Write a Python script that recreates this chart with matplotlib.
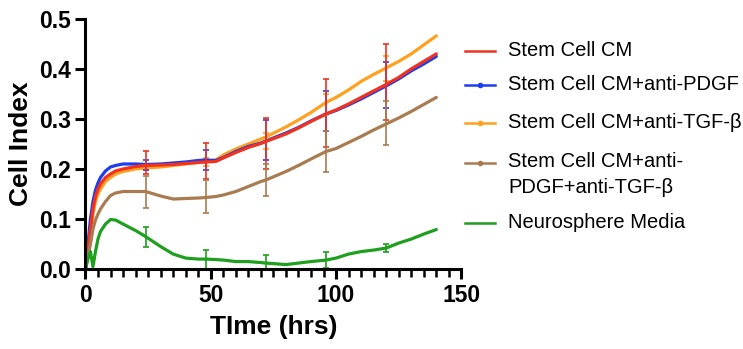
import numpy as np
import matplotlib
matplotlib.use("Agg")
import matplotlib.pyplot as plt
from matplotlib.lines import Line2D

plt.rcParams['font.family'] = ['Liberation Sans', 'DejaVu Sans']

# time points (hrs)
t_main = [0, 1, 2, 3, 4, 5, 6, 8, 10, 12, 15, 20, 24, 30, 35, 40, 45, 48, 52, 55, 60,
          65, 70, 72, 80, 85, 90, 96, 100, 105, 110, 115, 120, 125, 130, 135, 140]
red = [0, 0.04, 0.08, 0.12, 0.145, 0.16, 0.17, 0.183, 0.19, 0.196, 0.2, 0.205, 0.207, 0.208,
       0.209, 0.211, 0.213, 0.214, 0.215, 0.222, 0.233, 0.243, 0.251, 0.255, 0.27, 0.282,
       0.295, 0.31, 0.318, 0.33, 0.343, 0.356, 0.369, 0.383, 0.4, 0.415, 0.43]
blue = [0, 0.05, 0.1, 0.135, 0.158, 0.172, 0.183, 0.196, 0.204, 0.207, 0.21, 0.21, 0.209, 0.21,
        0.212, 0.214, 0.217, 0.218, 0.217, 0.223, 0.235, 0.245, 0.252, 0.256, 0.272, 0.283,
        0.296, 0.31, 0.317, 0.328, 0.34, 0.353, 0.366, 0.38, 0.396, 0.41, 0.425]
orange = [0, 0.035, 0.07, 0.11, 0.135, 0.15, 0.16, 0.175, 0.183, 0.19, 0.195, 0.2, 0.202,
          0.204, 0.207, 0.21, 0.213, 0.215, 0.218, 0.228, 0.24, 0.25, 0.26, 0.264, 0.284,
          0.298, 0.313, 0.333, 0.343, 0.358, 0.375, 0.389, 0.402, 0.415, 0.43, 0.448, 0.466]
brown = [0, 0.025, 0.05, 0.08, 0.098, 0.11, 0.12, 0.135, 0.147, 0.152, 0.155, 0.155, 0.155,
         0.146, 0.14, 0.141, 0.142, 0.143, 0.145, 0.148, 0.155, 0.165, 0.175, 0.178, 0.195,
         0.207, 0.22, 0.235, 0.241, 0.253, 0.265, 0.278, 0.29, 0.302, 0.315, 0.329, 0.343]
green = [0, 0.02, 0.035, 0.005, 0.035, 0.06, 0.075, 0.09, 0.099, 0.098, 0.09, 0.077, 0.065,
         0.045, 0.03, 0.022, 0.02, 0.02, 0.019, 0.018, 0.015, 0.015, 0.013, 0.012, 0.009,
         0.012, 0.015, 0.018, 0.022, 0.03, 0.035, 0.038, 0.042, 0.052, 0.06, 0.07, 0.079]

# error bars every 24 h: (low, high)
t_err = [24, 48, 72, 96, 120]
red_lo = [0.19, 0.18, 0.2, 0.244, 0.298]
red_hi = [0.236, 0.252, 0.302, 0.38, 0.449]
blue_lo = [0.197, 0.198, 0.218, 0.275, 0.322]
blue_hi = [0.218, 0.238, 0.298, 0.356, 0.413]
orange_lo = [0.198, 0.205, 0.24, 0.31, 0.375]
orange_hi = [0.21, 0.222, 0.272, 0.35, 0.425]
brown_lo = [0.123, 0.112, 0.147, 0.193, 0.247]
brown_hi = [0.185, 0.178, 0.21, 0.275, 0.335]
green_lo = [0.044, 0.0, 0.0, 0.002, 0.035]
green_hi = [0.084, 0.039, 0.028, 0.034, 0.05]

labels = ["Stem Cell CM", "Stem Cell CM+anti-PDGF", "Stem Cell CM+anti-TGF-β",
          "Stem Cell CM+anti-\nPDGF+anti-TGF-β", "Neurosphere Media"]
colors = ["#f0321e", "#1e3cf0", "#ffa01e", "#a87c50", "#1ea01e"]

fig = plt.figure(figsize=(7.43, 3.49), dpi=100)
ax = fig.add_axes([0.115, 0.229, 0.506, 0.717])

series = [(orange, orange_lo, orange_hi), (blue, blue_lo, blue_hi), (red, red_lo, red_hi),
          (brown, brown_lo, brown_hi), (green, green_lo, green_hi)]
order = [2, 1, 0, 3, 4]
for idx, (vals, lo, hi) in zip(order, series):
    c = colors[idx]
    ax.plot(t_main, vals, color=c, lw=2.3, solid_capstyle='round')
    mid = np.array([v for t, v in zip(t_main, vals) if t in t_err])
    yerr = np.abs([mid - np.array(lo), np.array(hi) - mid])
    ax.errorbar(t_err, mid, yerr=yerr, fmt='none', ecolor=c,
                elinewidth=1.2, capsize=2.5, capthick=1.2)

ax.set_xlim(0, 150)
ax.set_ylim(0, 0.5)
ax.set_xticks([0, 50, 100, 150])
ax.set_xticks(np.arange(0, 151, 5), minor=True)
ax.set_yticks([0, 0.1, 0.2, 0.3, 0.4, 0.5])
ax.set_yticklabels(["0.0", "0.1", "0.2", "0.3", "0.4", "0.5"])
for s in ("top", "right"):
    ax.spines[s].set_visible(False)
for s in ("left", "bottom"):
    ax.spines[s].set_linewidth(2.2)
ax.tick_params(which='major', length=7, width=2.2, labelsize=16.5)
ax.tick_params(which='minor', length=5.5, width=1.8)
for lab in ax.get_xticklabels() + ax.get_yticklabels():
    lab.set_fontweight('bold')
ax.set_xlabel("TIme (hrs)", fontsize=19, fontweight='bold', labelpad=6)
ax.set_ylabel("Cell Index", fontsize=19, fontweight='bold')

# legend drawn by hand so the two-line entry keeps its key on the first line
leg_y = [51, 85, 123, 163, 223]   # key rows, pixels from top
x0, x1, xt = 465 / 743, 495 / 743, 508 / 743
for i, (lab, c) in enumerate(zip(labels, colors)):
    yf = 1 - leg_y[i] / 349
    fig.add_artist(Line2D([x0, x1], [yf, yf], transform=fig.transFigure,
                          color=c, lw=1.8))
    if i in (1, 2, 3):
        fig.add_artist(Line2D([(x0 + x1) / 2], [yf], transform=fig.transFigure,
                              color=c, marker='o', markersize=3, lw=0))
    if '\n' in lab:
        fig.text(xt, yf + 11 / 349, lab, fontsize=14.5, va='top', ha='left',
                 linespacing=1.45)
    else:
        fig.text(xt, yf, lab, fontsize=14.5, va='center', ha='left')

fig.savefig("out.png", dpi=100)
